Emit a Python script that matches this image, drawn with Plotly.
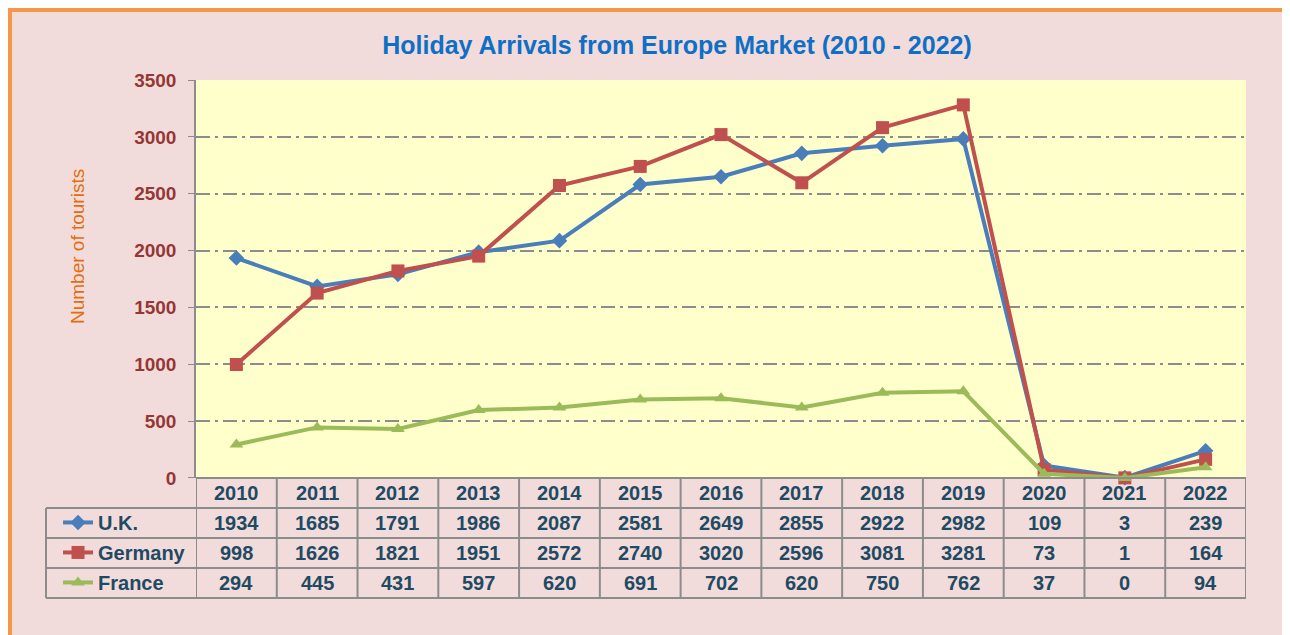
import plotly.graph_objects as go

##########################################
## Data
##########################################

years = [2010, 2011, 2012, 2013, 2014, 2015, 2016, 2017, 2018, 2019, 2020, 2021, 2022]
uk_values = [1934, 1685, 1791, 1986, 2087, 2581, 2649, 2855, 2922, 2982, 109, 3, 239]
germany_values = [998, 1626, 1821, 1951, 2572, 2740, 3020, 2596, 3081, 3281, 73, 1, 164]
france_values = [294, 445, 431, 597, 620, 691, 702, 620, 750, 762, 37, 0, 94]
y_ticks = [0, 500, 1000, 1500, 2000, 2500, 3000, 3500]

##########################################
## Styles
##########################################

FONT = "Liberation Sans, Arial, sans-serif"
TABLE_TEXT = "#1F4A63"
GRID = "#8C8C8C"

series = [
    ("U.K.", uk_values, "#4A7EBB", "diamond", 12),
    ("Germany", germany_values, "#C0504D", "square", 13),
    ("France", france_values, "#9BBB59", "triangle-up", 12),
]

# table geometry in paper coordinates (plot area spans the chart and the table)
table_top = 0.2317
row_lines = [0.1737, 0.1158, 0.0579, 0.0]
header_y = 0.2027
row_centers = [0.1448, 0.0869, 0.0290]
table_left = -0.14286

fig = go.Figure()

for name, values, colour, symbol, size in series:
    fig.add_trace(
        go.Scatter(
            x=years,
            y=values,
            name=name,
            mode="lines+markers",
            line=dict(color=colour, width=4),
            marker=dict(symbol=symbol, size=size, color=colour),
            legendgroup=name,
            cliponaxis=False,
        )
    )

# Table grid
shapes = []
for yr in years:
    shapes.append(dict(type="line", xref="x", yref="paper", x0=yr - 0.5, x1=yr - 0.5,
                       y0=0, y1=table_top, line=dict(color=GRID, width=2)))
shapes.append(dict(type="line", xref="x", yref="paper", x0=years[-1] + 0.5, x1=years[-1] + 0.5,
                   y0=0, y1=table_top, line=dict(color=GRID, width=2)))
shapes.append(dict(type="line", xref="paper", yref="paper", x0=table_left, x1=table_left,
                   y0=0, y1=row_lines[0], line=dict(color=GRID, width=2)))
shapes.append(dict(type="line", xref="paper", yref="paper", x0=0, x1=1,
                   y0=table_top, y1=table_top, line=dict(color=GRID, width=2)))
for ry in row_lines:
    shapes.append(dict(type="line", xref="paper", yref="paper", x0=table_left, x1=1,
                       y0=ry, y1=ry, line=dict(color=GRID, width=2)))

# Orange frame (top and left edges only are visible)
fig_left = -188 / 1050
fig_right = 1 + 44 / 1050
fig_top = 1 + 72 / 518
fig_bottom = -37 / 518
shapes.append(dict(type="line", xref="paper", yref="paper", x0=fig_left, x1=fig_right,
                   y0=fig_top, y1=fig_top, line=dict(color="#F79646", width=8)))
shapes.append(dict(type="line", xref="paper", yref="paper", x0=fig_left, x1=fig_left,
                   y0=fig_bottom, y1=fig_top, line=dict(color="#F79646", width=8)))

cell_font = dict(family=FONT, size=20, color=TABLE_TEXT, weight="bold")
annotations = []
for yr in years:
    annotations.append(dict(x=yr, y=header_y, xref="x", yref="paper", text=str(yr),
                            xanchor="center", yanchor="middle", showarrow=False, font=cell_font))
for (name, values, colour, symbol, size), cy in zip(series, row_centers):
    for yr, v in zip(years, values):
        annotations.append(dict(x=yr, y=cy, xref="x", yref="paper", text=str(v),
                                xanchor="center", yanchor="middle", showarrow=False, font=cell_font))

# y-axis title
annotations.append(dict(x=-0.1133, y=0.6776, xref="paper", yref="paper", text="Number of tourists",
                        textangle=-90, xanchor="center", yanchor="middle", showarrow=False,
                        font=dict(family=FONT, size=19, color="#E46C0A")))

fig.update_layout(
    width=1282,
    height=627,
    margin=dict(l=188, r=44, t=72, b=37),
    paper_bgcolor="#F2DCDB",
    plot_bgcolor="#FFFFCC",
    title=dict(text="<b>Holiday Arrivals from Europe Market (2010 - 2022)</b>",
               x=669 / 1282, xanchor="center", y=1 - 37 / 627, yanchor="middle",
               font=dict(family=FONT, size=25, color="#0F6FC6")),
    shapes=shapes,
    annotations=annotations,
    showlegend=True,
    legend=dict(x=-0.1314, xanchor="left", y=0.1835, yanchor="top",
                bgcolor="rgba(0,0,0,0)", tracegroupgap=1,
                font=dict(family=FONT, size=20, color=TABLE_TEXT, weight="bold")),
)

fig.update_xaxes(range=[years[0] - 0.5, years[-1] + 0.5], showticklabels=False,
                 showgrid=False, zeroline=False, ticks="")
fig.update_yaxes(domain=[table_top, 1], range=[0, 3500], tickvals=y_ticks,
                 showgrid=True, gridcolor=GRID, gridwidth=1.5, griddash="14px,5px,3px,5px",
                 zeroline=False, showline=True, linecolor=GRID, linewidth=1.5,
                 ticks="outside", ticklen=6, tickcolor=GRID, ticklabelstandoff=8,
                 tickfont=dict(family=FONT, size=19, color="#953735", weight="bold"))

fig.write_html("out.html")
